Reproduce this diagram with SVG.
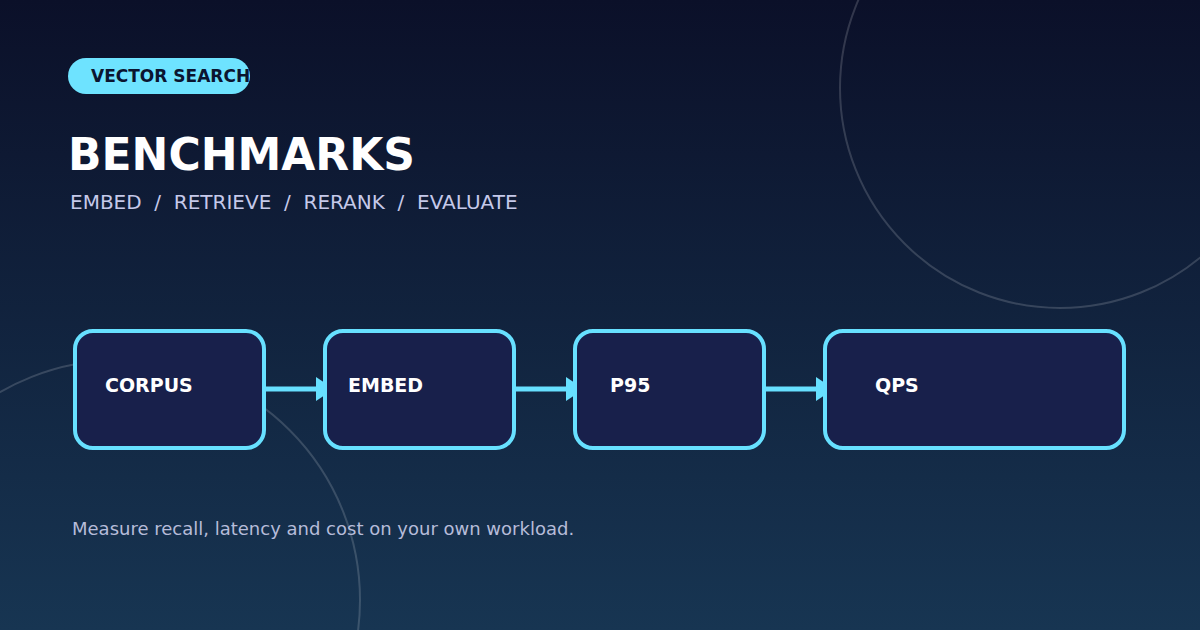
<svg xmlns="http://www.w3.org/2000/svg" width="1200" height="630" viewBox="0 0 1200 630">
  <defs>
    <linearGradient id="bg" x1="0" y1="0" x2="0" y2="1">
      <stop offset="0" stop-color="#0b1029"/>
      <stop offset="1" stop-color="#173552"/>
    </linearGradient>
    <marker id="arrow" viewBox="0 0 18 24" refX="17" refY="12" markerWidth="18" markerHeight="24" markerUnits="userSpaceOnUse" orient="auto">
      <path d="M0,0 L18,12 L0,24 Z" fill="#67e0ff"/>
    </marker>
    <style>
      .deco { fill: none; stroke: #ffffff; stroke-opacity: 0.16; stroke-width: 2; }
      .box { fill: #18204b; stroke: #67e0ff; stroke-width: 4; }
      .label { font-family: "DejaVu Sans", sans-serif; font-weight: bold; font-size: 19px; fill: #ffffff; }
      .edge { stroke: #67e0ff; stroke-width: 5; fill: none; }
    </style>
  </defs>
  <rect width="1200" height="630" fill="url(#bg)"/>
  <circle class="deco" cx="1060" cy="88" r="220"/>
  <circle class="deco" cx="120" cy="600" r="240"/>

  <g id="badge">
    <rect x="68" y="58" width="182" height="36" rx="18" fill="#6ee3ff"/>
    <text x="91" y="82" font-family="DejaVu Sans, sans-serif" font-weight="bold" font-size="17" fill="#0b1530">VECTOR SEARCH</text>
  </g>
  <text x="68" y="170" font-family="DejaVu Sans, sans-serif" font-weight="bold" font-size="44" fill="#ffffff">BENCHMARKS</text>
  <text x="70" y="209" font-family="DejaVu Sans, sans-serif" font-size="20" fill="#c5c9ea" xml:space="preserve">EMBED  /  RETRIEVE  /  RERANK  /  EVALUATE</text>

  <g id="connectors">
    <line class="edge" x1="266" y1="389" x2="333" y2="389" marker-end="url(#arrow)"/>
    <line class="edge" x1="516" y1="389" x2="583" y2="389" marker-end="url(#arrow)"/>
    <line class="edge" x1="766" y1="389" x2="833" y2="389" marker-end="url(#arrow)"/>
  </g>

  <g id="node-corpus">
    <rect class="box" x="75" y="331" width="189" height="117" rx="18"/>
    <text class="label" x="105" y="392">CORPUS</text>
  </g>
  <g id="node-embed">
    <rect class="box" x="325" y="331" width="189" height="117" rx="18"/>
    <text class="label" x="348" y="392">EMBED</text>
  </g>
  <g id="node-p95">
    <rect class="box" x="575" y="331" width="189" height="117" rx="18"/>
    <text class="label" x="610" y="392">P95</text>
  </g>
  <g id="node-qps">
    <rect class="box" x="825" y="331" width="299" height="117" rx="18"/>
    <text class="label" x="875" y="392">QPS</text>
  </g>

  <text x="72" y="535" font-family="DejaVu Sans, sans-serif" font-size="18" fill="#b6bcd9">Measure recall, latency and cost on your own workload.</text>
</svg>
